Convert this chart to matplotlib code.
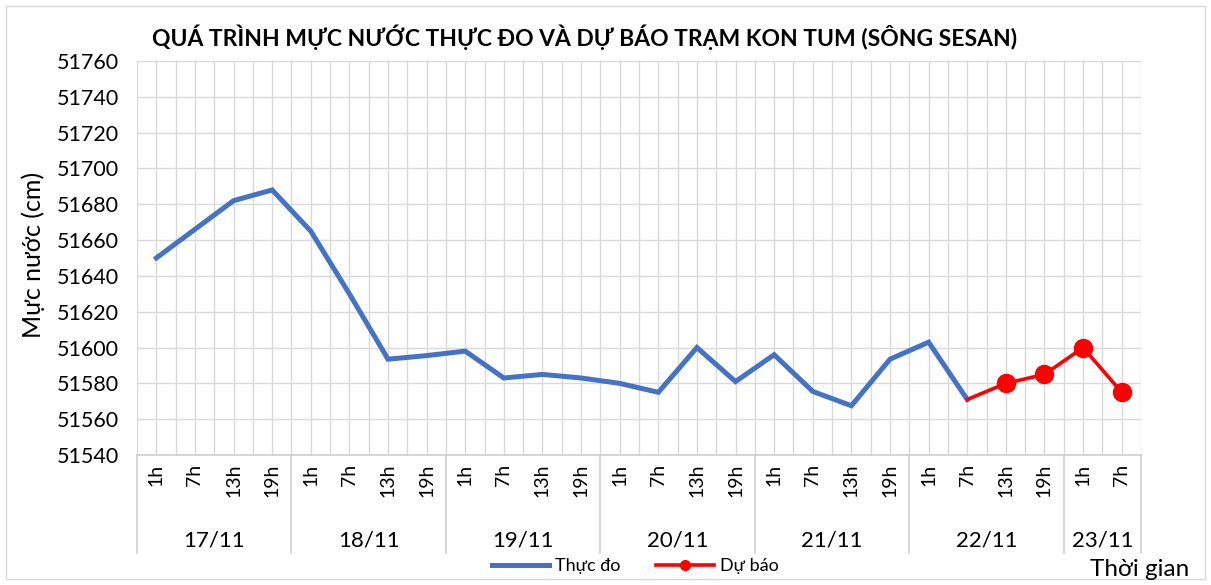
import matplotlib.pyplot as plt
from matplotlib.lines import Line2D
from matplotlib.patches import Rectangle

plt.rcParams['font.family'] = ['Lato', 'DejaVu Sans']

days = ["17/11", "18/11", "19/11", "20/11", "21/11", "22/11", "23/11"]
hours_per_day = [4, 4, 4, 4, 4, 4, 2]
hour_names = ["1h", "7h", "13h", "19h"]

# thực đo: 17/11 1h -> 22/11 7h
observed = [51650, 51666, 51682, 51688,
            51665, 51630, 51593.5, 51595.5,
            51598, 51583, 51585, 51583,
            51580, 51575, 51600, 51581,
            51596, 51575.5, 51567.5, 51593.5,
            51603, 51571]
# dự báo: 22/11 7h -> 23/11 7h
forecast = [51571, 51580, 51585, 51600, 51575]

hour_labels = []
for n in hours_per_day:
    hour_labels += hour_names[:n]
n_cat = len(hour_labels)
x_obs = list(range(len(observed)))
x_fc = list(range(len(observed) - 1, len(observed) - 1 + len(forecast)))

W, H = 1211, 585
fig = plt.figure(figsize=(W / 100, H / 100), dpi=100)
ax = fig.add_axes([137 / W, 1 - 455 / H, (1141 - 137) / W, (455 - 61) / H])

ax.set_xlim(-0.5, n_cat - 0.5)
ax.set_ylim(51540, 51760)
ax.set_yticks(range(51540, 51761, 20))
ax.set_xticks([i * 0.5 - 0.5 for i in range(2 * n_cat + 1)])
ax.set_xticklabels([])
ax.tick_params(axis="x", length=0)
ax.tick_params(axis="y", length=0, pad=13, labelsize=15.5, colors="#000000")
ax.grid(True, color="#d9d9d9", linewidth=1)
ax.set_axisbelow(True)
for s in ["top", "right", "left"]:
    ax.spines[s].set_visible(False)
ax.spines["bottom"].set_color("#d0d0d0")
ax.spines["bottom"].set_linewidth(1.2)

ax.plot(x_obs, observed, color="#4472C4", linewidth=3.6, solid_joinstyle="miter")
ax.plot(x_fc, forecast, color="#FF0000", linewidth=2.6, marker="o",
        markersize=13, markevery=list(range(1, len(forecast))))

tr = ax.get_xaxis_transform()
for i, lab in enumerate(hour_labels):
    ax.text(i, -0.022, lab, transform=tr, rotation=90, ha="center", va="top",
            fontsize=14)

start = -0.5
bounds = [start]
for d, n in zip(days, hours_per_day):
    ax.text(start + n / 2, -0.218, d, transform=tr, ha="center", va="center",
            fontsize=16)
    start += n
    bounds.append(start)
for b in bounds:
    ax.plot([b, b], [0, -0.248], transform=tr, color="#d0d0d0", linewidth=1.2,
            clip_on=False)

ax.set_title("QUÁ TRÌNH MỰC NƯỚC THỰC ĐO VÀ DỰ BÁO TRẠM KON TUM (SÔNG SESAN)",
             fontsize=16.5, fontweight="bold", x=0.446, pad=11)
fig.text(33 / W, 1 - 255 / H, "Mực nước (cm)", rotation=90, ha="center",
         va="center", fontsize=18)
fig.text(1140 / W, 1 - 569 / H, "Thời gian", ha="center", va="center",
         fontsize=17.5)

handles = [Line2D([], [], color="#4472C4", linewidth=3.6),
           Line2D([], [], color="#FF0000", linewidth=2.6, marker="o", markersize=7)]
fig.legend(handles, ["Thực đo", "Dự báo"], loc="center",
           bbox_to_anchor=(635 / W, 1 - 566 / H), ncol=2, frameon=False,
           fontsize=13, handlelength=3.2, handletextpad=0.3, columnspacing=2.0)

fig.add_artist(Rectangle((6 / W, 6 / H), 1 - 12 / W, 1 - 12 / H,
                         transform=fig.transFigure, fill=False,
                         edgecolor="#d9d9d9", linewidth=1))

fig.savefig("out.png", dpi=100)
